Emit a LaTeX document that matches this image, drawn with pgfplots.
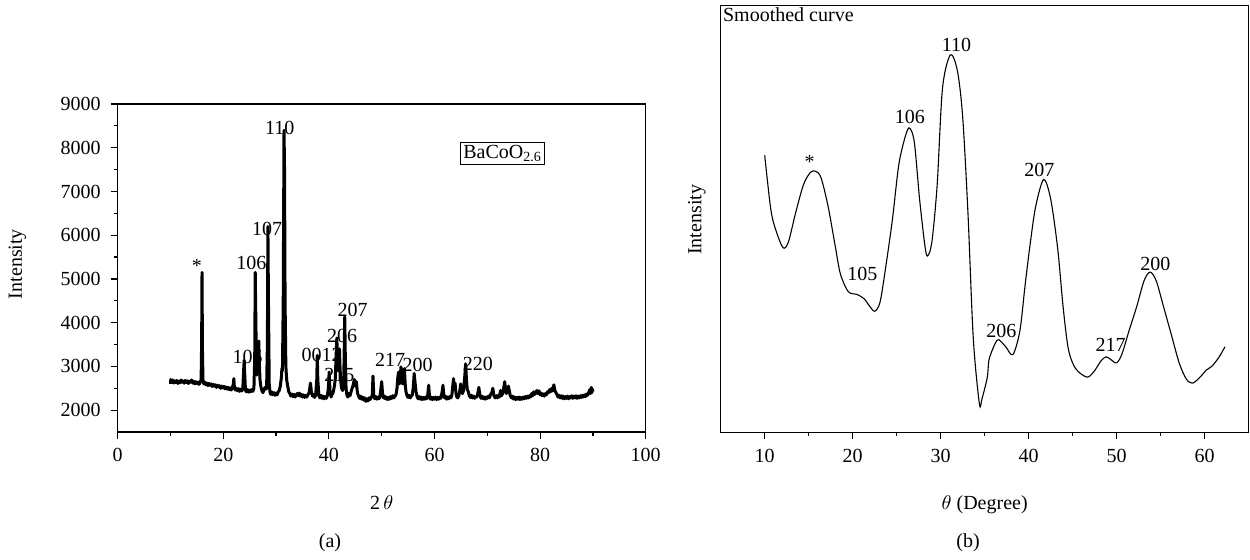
\documentclass[border=0pt]{standalone}
\usepackage{pgfplots}
\pgfplotsset{compat=1.18}
\usepackage{fontspec}
\setmainfont{Liberation Serif}
\begin{document}
\fontsize{10}{12}\selectfont
\begin{tikzpicture}
\path[use as bounding box] (0pt,0pt) rectangle (625pt,279.5pt);
\pgfplotsset{
  myaxis/.style={
    scale only axis, anchor=south west,
    width=264pt,
    tick align=outside, xtick pos=bottom, ytick pos=left,
    major tick length=3.5pt, minor tick length=1.8pt,
    axis line style={line width=0.6pt},
    every tick/.style={line width=0.6pt, black},
    tick label style={font=\fontsize{10}{12}\selectfont},
    label style={font=\fontsize{10}{12}\selectfont},
    every node/.append style={font=\fontsize{10}{12}\selectfont},
    /pgf/number format/assume math mode=true,
    /pgf/number format/1000 sep={},
    scaled ticks=false,
    clip=false,
    xticklabel style={yshift=-1.3pt},
    yticklabel style={xshift=-1.5pt},
  }
}
\begin{axis}[myaxis, at={(58.85pt,63.5pt)}, height=164pt,
  xmin=0, xmax=100, ymin=1500, ymax=9000,
  xtick={0,20,...,100}, minor x tick num=1,
  ytick={2000,3000,...,9000}, minor y tick num=1,
  xlabel={2\,$\theta$}, ylabel={Intensity},
  x label style={at={(axis description cs:0.5,-0.2165)}, anchor=center},
  y label style={at={(axis description cs:-0.19,0.512)}, anchor=center, rotate=0},
]
\addplot[black, line width=1.5pt, line join=round] table {
10.0 2600
10.05 2700
10.2 2640
10.4 2690
10.6 2620
10.8 2670
11.0 2630
11.2 2680
11.4 2610
11.6 2660
11.8 2625
12.0 2690
12.2 2640
12.4 2665
12.6 2615
12.8 2680
13.0 2630
13.2 2670
13.4 2610
13.6 2660
13.8 2640
14.0 2690
14.2 2620
14.4 2660
14.6 2600
14.8 2650
15.0 2610
15.2 2640
15.4 2590
15.6 2630
15.8 2700
15.9 3600
15.97 5150
16.05 3400
16.15 2700
16.3 2600
16.5 2640
16.7 2580
16.9 2620
17.1 2560
17.3 2610
17.5 2570
17.7 2600
17.9 2540
18.1 2590
18.3 2550
18.5 2580
18.7 2520
18.9 2570
19.1 2530
19.3 2560
19.5 2500
19.7 2550
19.9 2510
20.1 2545
20.3 2490
20.5 2530
20.7 2480
20.9 2520
21.1 2470
21.3 2510
21.5 2460
21.7 2500
21.9 2600
22.0 2720
22.1 2520
22.3 2460
22.5 2500
22.7 2440
22.9 2490
23.1 2430
23.3 2480
23.5 2440
23.7 2500
23.85 2900
23.95 3140
24.05 2850
24.2 2450
24.4 2420
24.6 2470
24.8 2410
25.0 2460
25.2 2420
25.4 2470
25.6 2430
25.8 2500
25.95 3200
26.05 5150
26.15 4200
26.3 2800
26.45 3000
26.6 3200
26.72 3580
26.82 3100
26.95 2700
27.1 2550
27.3 2450
27.5 2400
27.7 2460
27.9 2520
28.05 2480
28.2 2500
28.35 3500
28.45 6200
28.55 4500
28.7 2600
28.85 2400
29.0 2360
29.2 2420
29.4 2350
29.6 2400
29.8 2340
30.0 2390
30.2 2350
30.4 2420
30.6 2450
30.8 2550
31.0 2750
31.1 2950
31.2 2900
31.35 4500
31.5 8400
31.6 7500
31.7 4500
31.85 3000
32.0 2700
32.2 2550
32.4 2420
32.6 2380
32.8 2320
33.0 2370
33.2 2310
33.4 2360
33.6 2300
33.8 2350
34.0 2380
34.2 2330
34.4 2390
34.6 2320
34.8 2360
35.0 2300
35.2 2350
35.4 2290
35.6 2340
35.8 2300
36.0 2340
36.3 2420
36.5 2620
36.7 2400
36.9 2320
37.1 2360
37.3 2290
37.5 2350
37.7 2700
37.8 3250
37.9 2700
38.1 2330
38.3 2280
38.5 2340
38.7 2270
38.9 2320
39.1 2260
39.3 2310
39.5 2270
39.7 2330
39.9 2500
40.05 2870
40.2 2450
40.4 2300
40.6 2360
40.8 2400
41.0 2520
41.2 2700
41.35 3200
41.5 3650
41.6 3300
41.75 2900
41.9 3200
42.0 3400
42.1 3000
42.25 2650
42.4 2500
42.6 2450
42.8 2600
42.92 3500
43.0 4130
43.1 3300
43.25 2500
43.4 2350
43.6 2300
43.8 2380
44.0 2330
44.2 2420
44.4 2500
44.6 2580
44.8 2700
45.0 2550
45.2 2650
45.4 2400
45.6 2330
45.8 2270
46.0 2320
46.2 2250
46.4 2300
46.6 2230
46.8 2280
47.0 2200
47.2 2260
47.4 2210
47.6 2280
47.8 2240
48.0 2290
48.2 2320
48.35 2780
48.5 2330
48.7 2260
48.9 2310
49.1 2250
49.3 2300
49.5 2260
49.7 2330
49.9 2550
50.0 2650
50.15 2400
50.3 2280
50.5 2320
50.7 2260
50.9 2300
51.1 2240
51.3 2290
51.5 2250
51.7 2310
51.9 2270
52.1 2330
52.3 2280
52.5 2320
52.7 2350
52.9 2500
53.05 2750
53.2 2870
53.35 2600
53.5 2700
53.65 2990
53.8 2650
54.0 2600
54.15 2800
54.3 2950
54.45 2600
54.6 2420
54.8 2330
55.0 2290
55.2 2340
55.4 2280
55.6 2320
55.8 2350
56.0 2550
56.15 2840
56.3 2650
56.5 2420
56.7 2310
56.9 2260
57.1 2310
57.3 2250
57.5 2300
57.7 2240
57.9 2290
58.1 2250
58.3 2300
58.5 2260
58.7 2330
58.9 2570
59.05 2320
59.2 2250
59.4 2300
59.6 2240
59.8 2290
60.0 2250
60.2 2300
60.4 2240
60.6 2290
60.8 2250
61.0 2300
61.2 2270
61.45 2420
61.6 2570
61.75 2350
61.9 2280
62.1 2320
62.3 2250
62.5 2300
62.7 2260
62.9 2310
63.1 2280
63.3 2350
63.5 2600
63.6 2720
63.75 2500
63.9 2620
64.05 2400
64.2 2310
64.4 2280
64.6 2330
64.8 2450
64.95 2600
65.1 2420
65.3 2380
65.5 2450
65.75 2800
65.9 3060
66.05 2700
66.2 2480
66.4 2420
66.6 2330
66.8 2290
67.0 2340
67.2 2280
67.4 2320
67.6 2270
67.8 2310
68.0 2300
68.2 2380
68.4 2520
68.6 2340
68.8 2270
69.0 2320
69.2 2260
69.4 2300
69.6 2250
69.8 2300
70.0 2270
70.2 2320
70.4 2280
70.6 2350
70.85 2400
71.05 2500
71.25 2330
71.5 2280
71.7 2330
71.9 2280
72.1 2340
72.3 2300
72.5 2450
72.7 2330
72.9 2380
73.1 2500
73.3 2650
73.45 2450
73.6 2380
73.8 2420
74.0 2550
74.15 2450
74.35 2330
74.6 2280
74.8 2320
75.0 2250
75.2 2300
75.4 2240
75.6 2290
75.8 2250
76.0 2300
76.2 2240
76.4 2290
76.6 2250
76.8 2300
77.0 2260
77.2 2310
77.4 2270
77.6 2320
77.8 2280
78.0 2330
78.2 2300
78.4 2380
78.6 2330
78.8 2420
79.0 2360
79.2 2400
79.4 2450
79.6 2380
79.8 2440
80.0 2350
80.2 2390
80.4 2330
80.6 2370
80.8 2320
81.0 2380
81.2 2350
81.4 2420
81.6 2400
81.8 2470
82.0 2420
82.2 2500
82.4 2440
82.6 2580
82.8 2450
83.0 2400
83.2 2350
83.4 2300
83.6 2340
83.8 2280
84.0 2330
84.2 2270
84.4 2320
84.6 2260
84.8 2310
85.0 2270
85.2 2320
85.4 2260
85.6 2310
85.8 2280
86.0 2330
86.2 2270
86.4 2320
86.6 2280
86.8 2330
87.0 2270
87.2 2320
87.4 2280
87.6 2330
87.8 2290
88.0 2340
88.2 2300
88.4 2350
88.6 2310
88.8 2370
89.0 2340
89.2 2400
89.4 2470
89.55 2380
89.7 2520
89.8 2400
89.9 2480
90.0 2420
};
\node at (axis cs:30.7,8460) {110};
\node at (axis cs:28.3,6150) {107};
\node at (axis cs:25.3,5355) {106};
\node at (axis cs:15.0,5300) {*};
\node at (axis cs:44.5,4295) {207};
\node at (axis cs:42.5,3690) {206};
\node at (axis cs:24.6,3215) {105};
\node at (axis cs:38.6,3255) {0012};
\node at (axis cs:42.0,2800) {215};
\node at (axis cs:51.6,3155) {217};
\node at (axis cs:56.8,3025) {200};
\node at (axis cs:68.2,3050) {220};
\node[draw, line width=0.5pt, inner sep=1.5pt] at (axis cs:72.9,7870) {BaCoO\textsubscript{2.6}};
\end{axis}

\begin{axis}[myaxis, at={(360.35pt,63.35pt)}, height=213.3pt,
  xmin=5, xmax=65, ymin=0, ymax=1198,
  xtick={10,20,...,60}, minor x tick num=1,
  ytick=\empty,
  xlabel={$\theta$ (Degree)}, ylabel={Intensity},
  x label style={at={(axis description cs:0.5,-0.170)}, anchor=center},
  y label style={at={(axis description cs:-0.0449,0.498)}, anchor=center, rotate=0},
]
\addplot[black, line width=0.55pt, smooth, tension=0.5] table {
10.0 778
10.7 625
11.3 565
12.1 518
12.7 535
13.5 615
14.4 695
15.2 730
15.8 733
16.4 715
17.2 635
18.0 525
18.6 445
19.5 395
20.5 387
21.3 375
21.9 355
22.5 340
23.1 365
23.7 455
24.5 595
25.2 745
25.8 815
26.4 855
27.0 815
27.6 655
28.2 525
28.5 495
29.0 535
29.6 695
30.2 965
31.1 1060
31.9 1015
32.5 885
33.1 615
33.7 265
34.4 80
34.7 95
35.3 155
35.5 205
36.2 250
36.6 260
37.4 240
38.2 218
39.0 285
39.6 415
40.2 535
40.8 635
41.7 710
42.5 655
43.3 515
43.9 355
44.5 235
45.3 180
46.6 155
47.4 170
48.2 200
48.8 212
49.4 203
50.0 195
50.6 220
51.4 285
52.3 355
53.1 425
53.8 450
54.5 425
55.3 355
56.2 275
57.1 195
57.9 150
58.6 138
59.4 153
60.2 175
60.8 185
61.6 210
62.3 240
};
\node at (axis cs:15.1,760) {*};
\node at (axis cs:26.5,887) {106};
\node at (axis cs:31.8,1087) {110};
\node at (axis cs:21.1,445) {105};
\node at (axis cs:41.2,737) {207};
\node at (axis cs:36.9,285) {206};
\node at (axis cs:49.3,245) {217};
\node at (axis cs:54.4,472) {200};
\node[anchor=north west, inner sep=1pt] at (rel axis cs:0,1) {Smoothed curve};
\end{axis}
\node at (165pt,8pt) {(a)};
\node at (484pt,8pt) {(b)};
\end{tikzpicture}
\end{document}
